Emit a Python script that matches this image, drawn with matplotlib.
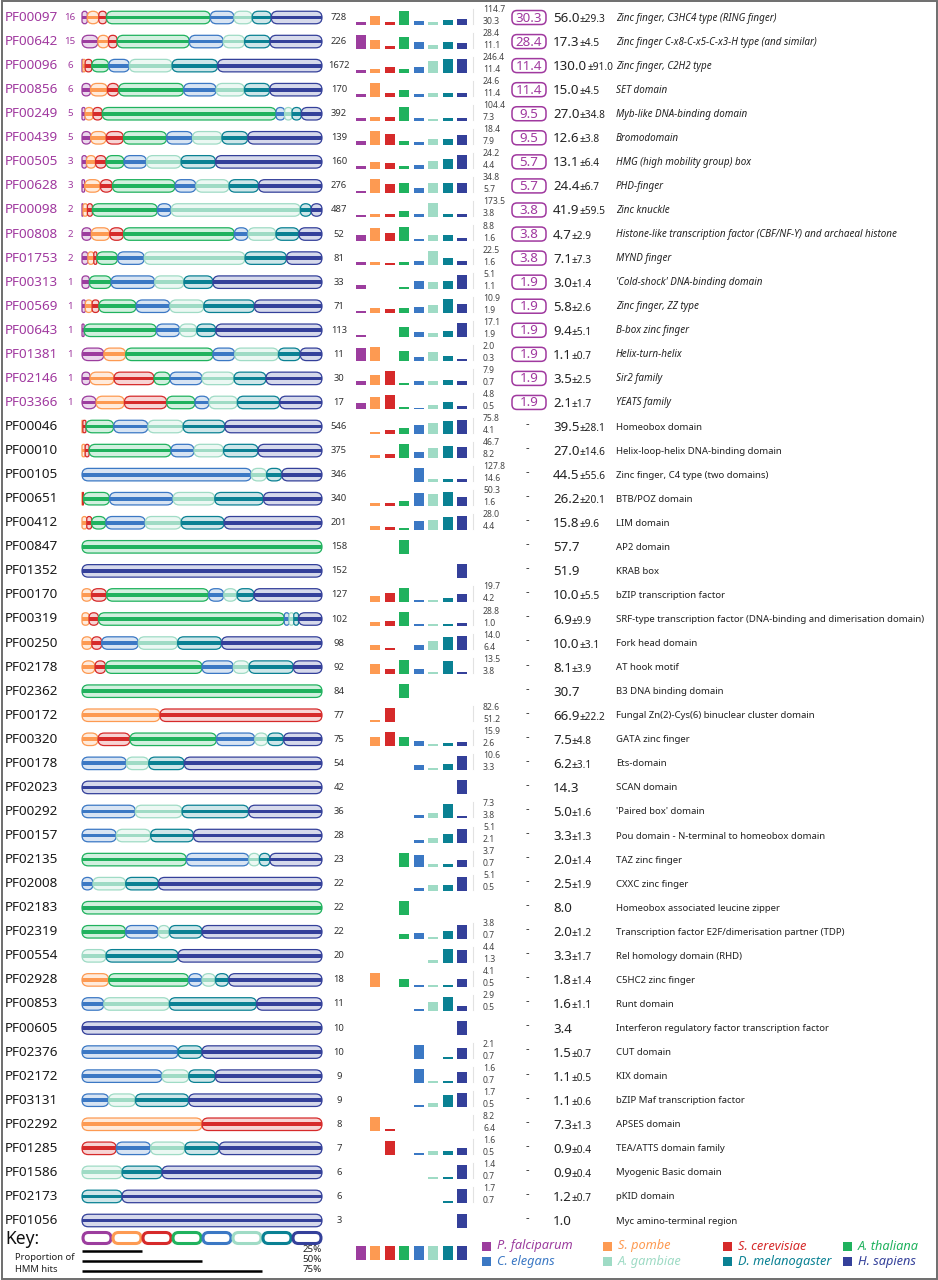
import matplotlib
matplotlib.use("Agg")
import matplotlib.pyplot as plt
from matplotlib.patches import FancyBboxPatch, Rectangle
from matplotlib.colors import to_rgb
import numpy as np

plt.rcParams['font.family'] = ['Noto Sans', 'DejaVu Sans']

species = ["P. falciparum", "S. pombe", "S. cerevisiae", "A. thaliana",
           "C. elegans", "A. gambiae", "D. melanogaster", "H. sapiens"]
colors = ["#9c3d9e", "#fd9a52", "#d62a2a", "#20b25e",
          "#3b78c4", "#9fdbc5", "#0a8193", "#34409a"]

pfam_ids = ["PF00097", "PF00642", "PF00096", "PF00856", "PF00249", "PF00439",
            "PF00505", "PF00628", "PF00098", "PF00808", "PF01753", "PF00313",
            "PF00569", "PF00643", "PF01381", "PF02146", "PF03366", "PF00046",
            "PF00010", "PF00105", "PF00651", "PF00412", "PF00847", "PF01352",
            "PF00170", "PF00319", "PF00250", "PF02178", "PF02362", "PF00172",
            "PF00320", "PF00178", "PF02023", "PF00292", "PF00157", "PF02135",
            "PF02008", "PF02183", "PF02319", "PF00554", "PF02928", "PF00853",
            "PF00605", "PF02376", "PF02172", "PF03131", "PF02292", "PF01285",
            "PF01586", "PF02173", "PF01056"]

# proteins per species (Pf, Sp, Sc, At, Ce, Ag, Dm, Hs)
counts = [
    [16, 35, 23, 315, 72, 55, 58, 154],
    [15, 10, 8, 68, 32, 20, 24, 49],
    [6, 16, 46, 118, 144, 297, 318, 727],
    [6, 12, 8, 46, 23, 20, 18, 37],
    [5, 13, 15, 284, 14, 12, 15, 34],
    [5, 9, 10, 25, 15, 17, 15, 43],
    [3, 6, 7, 12, 15, 23, 23, 71],
    [3, 18, 14, 72, 24, 38, 34, 73],
    [2, 9, 10, 132, 28, 262, 22, 22],
    [2, 4, 3, 24, 3, 6, 5, 5],
    [2, 2, 1, 7, 9, 34, 14, 12],
    [1, 0, 0, 3, 6, 4, 4, 15],
    [1, 2, 2, 11, 10, 10, 15, 20],
    [1, 0, 0, 34, 11, 8, 9, 50],
    [1, 1, 0, 4, 1, 2, 1, 1],
    [1, 3, 5, 2, 4, 4, 4, 7],
    [1, 2, 3, 2, 1, 2, 3, 3],
    [0, 2, 7, 63, 78, 80, 95, 221],
    [0, 5, 6, 128, 36, 46, 54, 100],
    [0, 0, 0, 0, 244, 22, 22, 58],
    [0, 1, 1, 37, 90, 59, 69, 83],
    [0, 4, 4, 12, 33, 30, 36, 82],
    [0, 0, 0, 158, 0, 0, 0, 0],
    [0, 0, 0, 0, 0, 0, 0, 152],
    [0, 5, 8, 54, 8, 7, 9, 36],
    [0, 3, 4, 79, 2, 2, 2, 10],
    [0, 4, 4, 0, 15, 16, 18, 41],
    [0, 5, 4, 37, 12, 6, 17, 11],
    [0, 0, 0, 84, 0, 0, 0, 0],
    [0, 25, 52, 0, 0, 0, 0, 0],
    [0, 5, 10, 27, 12, 4, 5, 12],
    [0, 0, 0, 0, 10, 5, 8, 31],
    [0, 0, 0, 0, 0, 0, 0, 42],
    [0, 0, 0, 0, 8, 7, 10, 11],
    [0, 0, 0, 0, 4, 4, 5, 15],
    [0, 0, 0, 10, 6, 1, 1, 5],
    [0, 0, 0, 0, 1, 3, 3, 15],
    [0, 0, 0, 22, 0, 0, 0, 0],
    [0, 0, 0, 4, 3, 1, 3, 11],
    [0, 0, 0, 0, 0, 2, 6, 12],
    [0, 2, 0, 6, 1, 1, 1, 7],
    [0, 0, 0, 0, 1, 3, 4, 3],
    [0, 0, 0, 0, 0, 0, 0, 10],
    [0, 0, 0, 0, 4, 0, 1, 5],
    [0, 0, 0, 0, 3, 1, 1, 4],
    [0, 0, 0, 0, 1, 1, 2, 5],
    [0, 4, 4, 0, 0, 0, 0, 0],
    [0, 0, 1, 0, 1, 1, 1, 3],
    [0, 0, 0, 0, 0, 1, 1, 4],
    [0, 0, 0, 0, 0, 0, 1, 5],
    [0, 0, 0, 0, 0, 0, 0, 3],
]

# relative bar heights per species (tallest = 1)
bar_heights = [
    [0.17, 0.62, 0.21, 1.0, 0.24, 0.21, 0.29, 0.40],
    [1.0, 0.59, 0.18, 0.82, 0.48, 0.27, 0.48, 0.43],
    [0.18, 0.27, 0.39, 0.27, 0.41, 0.82, 0.95, 1.0],
    [0.20, 1.0, 0.29, 0.51, 0.22, 0.29, 0.27, 0.27],
    [0.18, 0.30, 0.30, 1.0, 0.18, 0.14, 0.20, 0.23],
    [0.30, 1.0, 0.79, 0.26, 0.19, 0.44, 0.42, 0.70],
    [0.23, 0.49, 0.44, 0.19, 0.30, 0.58, 0.67, 1.0],
    [0.16, 1.0, 0.65, 0.74, 0.33, 0.72, 0.70, 0.74],
    [0.16, 0.23, 0.23, 0.40, 0.23, 1.0, 0.23, 0.21],
    [0.44, 0.93, 0.56, 1.0, 0.16, 0.44, 0.42, 0.19],
    [0.23, 0.23, 0.14, 0.19, 0.28, 1.0, 0.50, 0.26],
    [0.33, 0, 0, 0.16, 0.60, 0.49, 0.56, 1.0],
    [0.19, 0.37, 0.30, 0.35, 0.47, 0.60, 1.0, 0.63],
    [0.16, 0, 0, 0.74, 0.37, 0.33, 0.42, 1.0],
    [0.95, 1.0, 0, 0.76, 0.29, 0.64, 0.38, 0.17],
    [0.28, 0.77, 1.0, 0.16, 0.30, 0.35, 0.40, 0.33],
    [0.45, 0.86, 1.0, 0.19, 0.14, 0.33, 0.50, 0.26],
    [0, 0.14, 0.26, 0.37, 0.58, 0.72, 0.91, 1.0],
    [0, 0.16, 0.23, 1.0, 0.40, 0.65, 0.84, 0.74],
    [0, 0, 0, 0, 1.0, 0.16, 0.19, 0.21],
    [0, 0.19, 0.16, 0.35, 0.93, 0.81, 1.0, 0.60],
    [0, 0.28, 0.23, 0.14, 0.60, 0.70, 0.93, 1.0],
    [0, 0, 0, 1.0, 0, 0, 0, 0],
    [0, 0, 0, 0, 0, 0, 0, 1.0],
    [0, 0.44, 0.63, 1.0, 0.12, 0.12, 0.28, 0.56],
    [0, 0.28, 0.33, 1.0, 0.14, 0.14, 0.16, 0.21],
    [0, 0.37, 0.16, 0, 0.35, 0.65, 0.93, 1.0],
    [0, 0.72, 0.40, 1.0, 0.37, 0.16, 0.91, 0.16],
    [0, 0, 0, 1.0, 0, 0, 0, 0],
    [0, 0.19, 1.0, 0, 0, 0, 0, 0],
    [0, 0.70, 1.0, 0.63, 0.40, 0.16, 0.26, 0.28],
    [0, 0, 0, 0, 0.37, 0.16, 0.47, 1.0],
    [0, 0, 0, 0, 0, 0, 0, 1.0],
    [0, 0, 0, 0, 0.26, 0.37, 1.0, 0.16],
    [0, 0, 0, 0, 0.19, 0.33, 0.58, 1.0],
    [0, 0, 0, 1.0, 0.81, 0.16, 0.16, 0.44],
    [0, 0, 0, 0, 0.16, 0.44, 0.44, 1.0],
    [0, 0, 0, 1.0, 0, 0, 0, 0],
    [0, 0, 0, 0.37, 0.40, 0.16, 0.56, 1.0],
    [0, 0, 0, 0, 0, 0.19, 1.0, 0.93],
    [0, 1.0, 0, 0.53, 0.16, 0.16, 0.16, 0.58],
    [0, 0, 0, 0, 0.16, 0.67, 1.0, 0.33],
    [0, 0, 0, 0, 0, 0, 0, 1.0],
    [0, 0, 0, 0, 1.0, 0, 0.16, 0.76],
    [0, 0, 0, 0, 1.0, 0.16, 0.16, 0.81],
    [0, 0, 0, 0, 0.16, 0.30, 0.84, 1.0],
    [0, 1.0, 0.16, 0, 0, 0, 0, 0],
    [0, 0, 1.0, 0, 0.16, 0.33, 0.33, 0.51],
    [0, 0, 0, 0, 0, 0.16, 0.16, 1.0],
    [0, 0, 0, 0, 0, 0, 0.16, 1.0],
    [0, 0, 0, 0, 0, 0, 0, 1.0],
]

range_hi = ["114.7", "28.4", "246.4", "24.6", "104.4", "18.4", "24.2", "34.8",
            "173.5", "8.8", "22.5", "5.1", "10.9", "17.1", "2.0", "7.9", "4.8",
            "75.8", "46.7", "127.8", "50.3", "28.0", None, None, "19.7", "28.8",
            "14.0", "13.5", None, "82.6", "15.9", "10.6", None, "7.3", "5.1",
            "3.7", "5.1", None, "3.8", "4.4", "4.1", "2.9", None, "2.1", "1.6",
            "1.7", "8.2", "1.6", "1.4", "1.7", None]
range_lo = ["30.3", "11.1", "11.4", "11.4", "7.3", "7.9", "4.4", "5.7",
            "3.8", "1.6", "1.6", "1.1", "1.9", "1.9", "0.3", "0.7", "0.5",
            "4.1", "8.2", "14.6", "1.6", "4.4", None, None, "4.2", "1.0",
            "6.4", "3.8", None, "51.2", "2.6", "3.3", None, "3.8", "2.1",
            "0.7", "0.5", None, "0.7", "1.3", "0.5", "0.5", None, "0.7", "0.7",
            "0.5", "6.4", "0.5", "0.7", "0.7", None]

pf_percent = ["30.3", "28.4", "11.4", "11.4", "9.5", "9.5", "5.7", "5.7", "3.8",
              "3.8", "3.8", "1.9", "1.9", "1.9", "1.9", "1.9", "1.9"]

means = ["56.0", "17.3", "130.0", "15.0", "27.0", "12.6", "13.1", "24.4", "41.9",
         "4.7", "7.1", "3.0", "5.8", "9.4", "1.1", "3.5", "2.1", "39.5", "27.0",
         "44.5", "26.2", "15.8", "57.7", "51.9", "10.0", "6.9", "10.0", "8.1",
         "30.7", "66.9", "7.5", "6.2", "14.3", "5.0", "3.3", "2.0", "2.5", "8.0",
         "2.0", "3.3", "1.8", "1.6", "3.4", "1.5", "1.1", "1.1", "7.3", "0.9",
         "0.9", "1.2", "1.0"]
sds = ["29.3", "4.5", "91.0", "4.5", "34.8", "3.8", "6.4", "6.7", "59.5", "2.9",
       "7.3", "1.4", "2.6", "5.1", "0.7", "2.5", "1.7", "28.1", "14.6", "55.6",
       "20.1", "9.6", None, None, "5.5", "9.9", "3.1", "3.9", None, "22.2", "4.8",
       "3.1", None, "1.6", "1.3", "1.4", "1.9", None, "1.2", "1.7", "1.4", "1.1",
       None, "0.7", "0.5", "0.6", "1.3", "0.4", "0.4", "0.7", None]

descriptions = [
    "Zinc finger, C3HC4 type (RING finger)",
    "Zinc finger C-x8-C-x5-C-x3-H type (and similar)",
    "Zinc finger, C2H2 type",
    "SET domain",
    "Myb-like DNA-binding domain",
    "Bromodomain",
    "HMG (high mobility group) box",
    "PHD-finger",
    "Zinc knuckle",
    "Histone-like transcription factor (CBF/NF-Y) and archaeal histone",
    "MYND finger",
    "'Cold-shock' DNA-binding domain",
    "Zinc finger, ZZ type",
    "B-box zinc finger",
    "Helix-turn-helix",
    "Sir2 family",
    "YEATS family",
    "Homeobox domain",
    "Helix-loop-helix DNA-binding domain",
    "Zinc finger, C4 type (two domains)",
    "BTB/POZ domain",
    "LIM domain",
    "AP2 domain",
    "KRAB box",
    "bZIP transcription factor",
    "SRF-type transcription factor (DNA-binding and dimerisation domain)",
    "Fork head domain",
    "AT hook motif",
    "B3 DNA binding domain",
    "Fungal Zn(2)-Cys(6) binuclear cluster domain",
    "GATA zinc finger",
    "Ets-domain",
    "SCAN domain",
    "'Paired box' domain",
    "Pou domain - N-terminal to homeobox domain",
    "TAZ zinc finger",
    "CXXC zinc finger",
    "Homeobox associated leucine zipper",
    "Transcription factor E2F/dimerisation partner (TDP)",
    "Rel homology domain (RHD)",
    "C5HC2 zinc finger",
    "Runt domain",
    "Interferon regulatory factor transcription factor",
    "CUT domain",
    "KIX domain",
    "bZIP Maf transcription factor",
    "APSES domain",
    "TEA/ATTS domain family",
    "Myogenic Basic domain",
    "pKID domain",
    "Myc amino-terminal region",
]

key_props = [0.25, 0.50, 0.75]

# layout (pixel units)
ROW0, PITCH = 17.5, 24.06
DX0, DX1 = 82, 322
CAP_H, STRIPE_H = 12.5, 3.8
BX0, BSTEP, BW, BH = 356, 14.45, 10, 14
PURPLE = "#a0399f"


def lighten(c, f):
    r = np.array(to_rgb(c))
    return tuple(r * (1 - f) + f)


def capsule(ax, x0, w, yc, h, color, lw=0.9, fc=None, stripe=True):
    r = min(h / 2, w / 2)
    p = FancyBboxPatch((x0, yc - h / 2), w, h,
                       boxstyle="round,pad=0,rounding_size=%.2f" % r,
                       fc=fc if fc is not None else lighten(color, 0.8),
                       ec=color, lw=lw)
    ax.add_patch(p)
    if stripe:
        s = Rectangle((x0, yc - STRIPE_H / 2), w, STRIPE_H, fc=color, lw=0)
        ax.add_patch(s)
        s.set_clip_path(p)


fig = plt.figure(figsize=(9.38, 12.8), dpi=100)
ax = fig.add_axes([0, 0, 1, 1])
ax.set_xlim(0, 938)
ax.set_ylim(1280, 0)
ax.axis('off')

bar_x = BX0 + np.arange(8) * BSTEP

for i, pid in enumerate(pfam_ids):
    y = ROW0 + i * PITCH
    is_pf = counts[i][0] > 0
    ax.text(5, y, pid, fontsize=9.7, va='center', ha='left',
            color=PURPLE if is_pf else '#1a1a1a')
    if is_pf:
        ax.text(70, y, str(counts[i][0]), fontsize=7, fontweight='bold',
                va='center', ha='center', color=PURPLE)

    # domain capsules, widths proportional to protein counts
    c = np.array(counts[i], dtype=float)
    total = int(c.sum())
    frac = c / c.sum()
    left = DX0
    for k in range(8):
        if c[k] == 0:
            continue
        w = frac[k] * (DX1 - DX0)
        capsule(ax, left, w, y, CAP_H, colors[k])
        left += w

    ax.text(339, y, str(total), fontsize=6.8, va='center', ha='center', color='#333333')

    h = np.array(bar_heights[i]) * BH
    ax.bar(bar_x, -h, bottom=y + 7, width=BW, align='edge', color=colors, lw=0)

    if range_hi[i] is not None:
        ax.plot([473, 473], [y - 9, y + 6], color='#e2e2e2', lw=0.8)
        ax.text(483, y - 8, range_hi[i], fontsize=6.2, va='center', ha='left', color='#444444')
        ax.text(483, y + 4, range_lo[i], fontsize=6.2, va='center', ha='left', color='#444444')

    if i < len(pf_percent):
        box = FancyBboxPatch((512, y - 7), 34, 14,
                             boxstyle="round,pad=0,rounding_size=5",
                             fc='white', ec=PURPLE, lw=1.1)
        ax.add_patch(box)
        ax.text(529, y + 0.5, pf_percent[i], fontsize=9.6, fontweight='bold',
                va='center', ha='center', color=PURPLE)
    else:
        ax.text(527, y - 2, "-", fontsize=8, fontweight='bold', va='center',
                ha='center', color='#222222')

    t = ax.text(553, y + 4.5, means[i], fontsize=9.6, va='baseline', ha='left', color='#222222')
    if sds[i] is not None:
        ax.annotate("\u00b1" + sds[i], xy=(1, 0), xycoords=t, fontsize=7.3,
                    va='bottom', ha='left', color='#222222')

    ax.text(616, y + 0.5, descriptions[i], fontsize=7.1 if is_pf else 6.9,
            va='center', ha='left', color='#222222',
            style='italic' if is_pf else 'normal')

# key
yk = 1238
ax.text(5, yk + 1, "Key:", fontsize=12.5, va='center', ha='left', color='#111111')
seg = (DX1 - DX0) / 8
for k in range(8):
    capsule(ax, DX0 + k * seg + 1, seg - 2, yk, 11, colors[k], lw=2.2,
            fc='white', stripe=False)

ax.text(15, 1257, "Proportion of", fontsize=6.8, va='center', ha='left', color='#222222')
ax.text(15, 1270, "HMM hits", fontsize=6.8, va='center', ha='left', color='#222222')
for j, p in enumerate(key_props):
    yy = 1251 + j * 10
    ax.plot([DX0, DX0 + p * (DX1 - DX0)], [yy, yy], color='black', lw=1.8,
            solid_capstyle='butt')
    ax.text(DX1, yy - 1, "%d%%" % round(p * 100), fontsize=7, va='center',
            ha='right', color='#222222')

ax.bar(bar_x, -np.full(8, BH), bottom=1260, width=BW, align='edge', color=colors, lw=0)

leg_x = [482, 603, 723, 843]
leg_y = [1246, 1261]
for k, name in enumerate(species):
    lx = leg_x[k % 4]
    ly = leg_y[k // 4]
    ax.add_patch(Rectangle((lx, ly - 4.5), 9, 9, fc=colors[k], lw=0))
    ax.text(lx + 15, ly, name, fontsize=9.2, style='italic', va='center',
            ha='left', color=colors[k])

ax.add_patch(Rectangle((1.5, 1.0), 935, 1277.5, fill=False, ec='#6e6e6e', lw=1.4))

fig.savefig("out.png", dpi=100)
